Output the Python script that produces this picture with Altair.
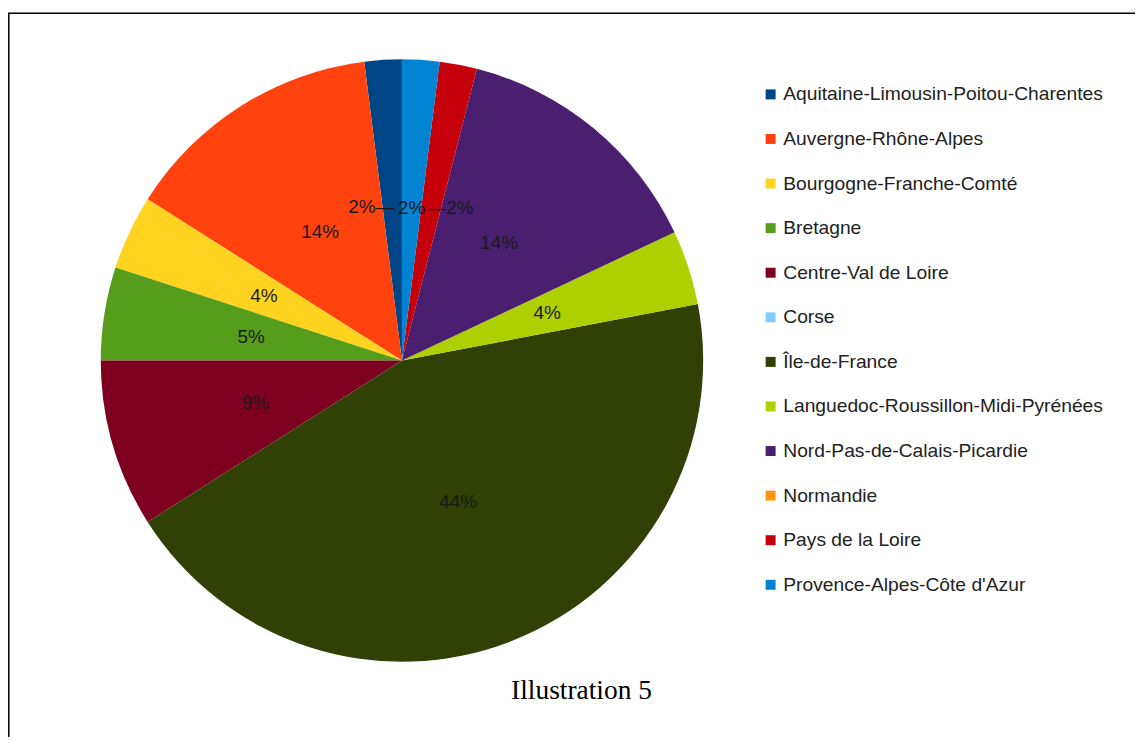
import altair as alt
import pandas as pd

regions = ["Aquitaine-Limousin-Poitou-Charentes", "Auvergne-Rhône-Alpes", "Bourgogne-Franche-Comté",
           "Bretagne", "Centre-Val de Loire", "Corse", "Île-de-France",
           "Languedoc-Roussillon-Midi-Pyrénées", "Nord-Pas-de-Calais-Picardie", "Normandie",
           "Pays de la Loire", "Provence-Alpes-Côte d'Azur"]
percents = [2, 14, 4, 5, 9, 0, 44, 4, 14, 0, 2, 2]
colors = ["#004586", "#ff420e", "#ffd320", "#579d1c", "#7e0021", "#83caff",
          "#314004", "#aecf00", "#4b1f6f", "#ff950e", "#c5000b", "#0084d1"]
caption = "Illustration 5"

df = pd.DataFrame({"region": regions, "value": percents, "idx": list(range(len(regions)))})
df = df[df.value > 0]

CX, CY, R, LR = 395, 352.5, 302, 153
FONT = "Liberation Sans"

base = alt.Chart(df).encode(
    theta=alt.Theta("value:Q", stack=True),
    order=alt.Order("idx:Q", sort="descending"),
    x=alt.value(CX), y=alt.value(CY),
)
pie = base.mark_arc(outerRadius=R).encode(
    color=alt.Color("region:N", scale=alt.Scale(domain=regions, range=colors),
                    legend=alt.Legend(title=None, orient="none", legendX=755, legendY=76,
                                      symbolType="square", symbolSize=100, symbolStrokeWidth=0,
                                      labelFont=FONT, labelFontSize=19.3, labelColor="#222222",
                                      labelLimit=500, labelOffset=3, rowPadding=24.7, padding=0))
)
txt_kw = dict(radius=LR, font=FONT, fontSize=19, color="#1a1a1a", baseline="middle")
labels_main = base.transform_calculate(
    lab="(datum.idx != 0 && datum.idx != 10) ? datum.value + '%' : ''"
).mark_text(**txt_kw).encode(text="lab:N")
label_left = base.transform_calculate(
    lab="datum.idx == 0 ? datum.value + '%—' : ''"
).mark_text(dx=-21, dy=-1.5, **txt_kw).encode(text="lab:N")
label_right = base.transform_calculate(
    lab="datum.idx == 10 ? '—' + datum.value + '%' : ''"
).mark_text(dx=20, dy=-2.5, **txt_kw).encode(text="lab:N")

cap = alt.Chart(pd.DataFrame({"t": [caption]})).mark_text(
    font="Liberation Serif", fontSize=27.5, color="#000000", baseline="middle"
).encode(text="t:N", x=alt.value(575), y=alt.value(684))

frame_df = pd.DataFrame({"k": [0]})
top_line = alt.Chart(frame_df).mark_rule(color="#000000", strokeWidth=1.5).encode(
    x=alt.value(0), x2=alt.value(1135), y=alt.value(4.3))
left_line = alt.Chart(frame_df).mark_rule(color="#000000", strokeWidth=1.5).encode(
    x=alt.value(0.8), y=alt.value(4), y2=alt.value(737))

chart = alt.layer(pie, labels_main, label_left, label_right, cap, top_line, left_line).properties(
    width=1130, height=729, padding=0, autosize=alt.AutoSizeParams(type="none")
).configure_view(stroke=None)
chart.save("out.html", embed_options={"renderer": "svg", "actions": False})
